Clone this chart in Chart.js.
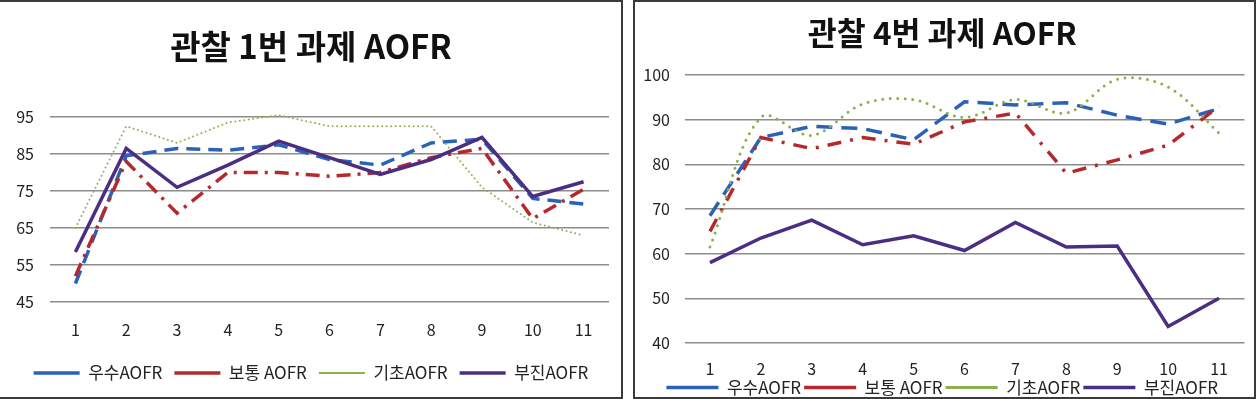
<!DOCTYPE html>
<html>
<head>
<meta charset="utf-8">
<script src="https://cdn.jsdelivr.net/npm/chart.js@4.4.0/dist/chart.umd.min.js"></script>
<style>
html, body { margin: 0; padding: 0; background: #fff; overflow: hidden; width: 1257px; height: 399px; }
.panel { position: absolute; box-sizing: border-box; border: 2px solid #3a3a3a; }
canvas { position: absolute; }
</style>
</head>
<body>
<div class="panel" style="left:-2px;top:0;width:625px;height:399px"></div>
<div class="panel" style="left:633px;top:0;width:623px;height:399px"></div>
<canvas id="chart1" width="622" height="397" style="left:0;top:0;width:622px;height:397px"></canvas>
<canvas id="chart4" width="622" height="410" style="left:633px;top:0;width:622px;height:410px"></canvas>
<script>
const categories = ['1', '2', '3', '4', '5', '6', '7', '8', '9', '10', '11'];
const seriesNames = ['우수AOFR', '보통 AOFR', '기초AOFR', '부진AOFR'];

// 관찰 1번 과제
const excellent1 = [50, 84.5, 86.5, 86, 87.5, 83.5, 82, 88, 89, 73, 71.5];
const normal1 = [52, 83, 69, 80, 80, 79, 80, 84, 86.5, 67.5, 75.5];
const basic1 = [65, 92.5, 88, 93.5, 95.5, 92.5, 92.5, 92.5, 76, 66.5, 63];
const poor1 = [58.5, 86.5, 76, 82, 88.5, 84, 79.5, 83.5, 89.5, 73.5, 77.5];

// 관찰 4번 과제
const excellent4 = [68.5, 86, 88.5, 88, 85.5, 94, 93.3, 93.8, 91, 89, 92.5];
const normal4 = [65, 86, 83.5, 86, 84.5, 89.5, 91.5, 78, 81, 84.3, 93];
const basic4 = [61.5, 90.5, 86.5, 93.5, 94.5, 90.5, 94.5, 91.5, 99, 97.3, 87];
const poor4 = [58, 63.5, 67.5, 62, 64, 60.7, 67, 61.5, 61.7, 43.7, 50];

Chart.defaults.font.family = "'Noto Sans CJK KR', 'Noto Sans', sans-serif";
Chart.defaults.color = '#222';

const BLUE = '#2a62b8', RED = '#b5292c', GREEN = '#8cb04c', PURPLE = '#4b2e83';

function makeDatasets(values, s) {
    return [
        { label: seriesNames[0], data: values[0], borderColor: BLUE, borderWidth: 3.5, borderDash: s.blueDash, order: 4 },
        { label: seriesNames[1], data: values[1], borderColor: RED, borderWidth: 3.5, borderDash: s.redDash, order: 3 },
        { label: seriesNames[2], data: values[2], borderColor: GREEN, borderWidth: s.greenWidth, borderDash: s.greenDash,
          borderCapStyle: 'round', tension: s.greenTension, order: 2 },
        { label: seriesNames[3], data: values[3], borderColor: PURPLE, borderWidth: 3.5, order: 1 }
    ].map(d => Object.assign({ pointRadius: 0, fill: false, clip: false }, d));
}

function buildChart(id, values, s) {
    return new Chart(document.getElementById(id), {
        type: 'line',
        data: { labels: categories, datasets: makeDatasets(values, s) },
        options: {
            responsive: false,
            animation: false,
            layout: { padding: { left: s.padLeft, right: s.padRight, top: 0, bottom: s.padBottom } },
            plugins: {
                title: { display: true, text: s.title, color: '#111',
                    font: { size: s.titleSize, weight: 'bold' },
                    padding: { top: s.titleTop, bottom: s.titleBottom } },
                legend: { position: 'bottom',
                    labels: { usePointStyle: true, pointStyle: 'line', pointStyleWidth: s.legendLine, padding: s.legendPad,
                        font: { size: 17 }, color: '#222', sort: (a, b) => a.datasetIndex - b.datasetIndex } },
                tooltip: { enabled: false }
            },
            scales: {
                x: {
                    offset: true,
                    grid: { display: false, offset: true }, border: { display: false },
                    ticks: { font: { size: 16 }, padding: s.xPad, maxRotation: 0 },
                    afterFit: scale => { scale.height = s.xHeight; }
                },
                y: {
                    min: s.min, max: s.max,
                    ticks: { stepSize: 10, font: { size: 16 }, padding: s.yPad },
                    grid: { color: '#8c8c8c', lineWidth: 1.5, drawTicks: false },
                    border: { display: false },
                    afterFit: scale => { scale.width = s.yWidth; }
                }
            }
        }
    });
}

buildChart('chart1', [excellent1, normal1, basic1, poor1], {
    title: '관찰 1번 과제 AOFR', titleSize: 33, titleTop: 27, titleBottom: 50.4,
    min: 45, max: 95, padLeft: 13, padRight: 13, yWidth: 37, yPad: 16,
    xPad: 10, xHeight: 50.5, padBottom: 5.5, legendPad: 12, legendLine: 46,
    blueDash: [14, 8], redDash: [14, 7, 3, 7], greenDash: [0, 4.5], greenWidth: 2, greenTension: 0
});

buildChart('chart4', [excellent4, normal4, basic4, poor4], {
    title: '관찰 4번 과제 AOFR', titleSize: 31.5, titleTop: 14, titleBottom: 23.2,
    min: 40, max: 100, padLeft: 7, padRight: 10.5, yWidth: 44.5, yPad: 14.5,
    xPad: 8, xHeight: 33, padBottom: 4, legendPad: 3, legendLine: 52,
    blueDash: [16, 9], redDash: [14, 9, 3, 9], greenDash: [0, 7.5], greenWidth: 3, greenTension: 0.35
});
</script>
</body>
</html>
